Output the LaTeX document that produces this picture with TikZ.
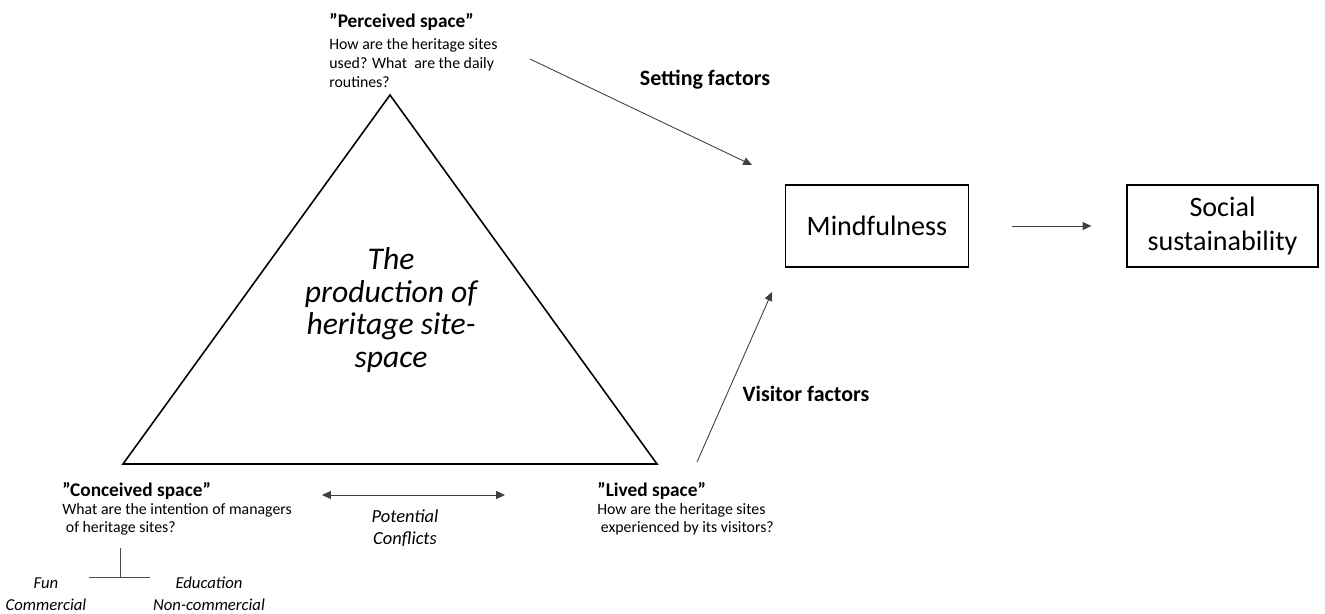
\documentclass[tikz,border=0pt]{standalone}
\usepackage{fontspec}
\setmainfont{Carlito}
\usetikzlibrary{arrows.meta, positioning}

\begin{document}
\begin{tikzpicture}[
    x=0.02cm, y=-0.02cm,
    note/.style={align=left, anchor=north west, inner sep=0pt, font=\fontsize{9}{10.2}\selectfont},
    factor/.style={inner sep=0pt, font=\fontsize{12.5}{15}\selectfont\bfseries},
    choice/.style={align=center, inner sep=0pt, font=\fontsize{9.5}{12.5}\selectfont\itshape},
    box/.style={rectangle, draw, line width=0.7pt, minimum height=1.64cm, align=center, inner sep=2pt, font=\fontsize{16}{19.5}\selectfont},
    arrow/.style={-{Triangle[length=5pt, width=4.5pt]}, line width=0.5pt, draw=black!75},
    tree/.style={line width=0.5pt, draw=black!70}
]
\useasboundingbox (0,0) rectangle (1325,613);

% the three spaces of the triangle
\coordinate (apex) at (390,95);
\coordinate (left) at (123,464);
\coordinate (right) at (657,464);
\draw[line width=0.9pt, line join=miter] (apex) -- (right) -- (left) -- cycle;

\node[align=center, inner sep=0pt, font=\fontsize{18}{18.5}\selectfont\itshape] (production) at (391,310)
    {The\\production of\\heritage site-\\space};

\node[note, font=\fontsize{9}{10.9}\selectfont] (perceived) at (329,13) {{\fontsize{11}{12}\selectfont\bfseries ''Perceived space''}\\[1.5pt]How are the heritage sites\\used? What~ are the daily\\routines?};
\node[note] (conceived) at (62,482) {{\fontsize{11}{12}\selectfont\bfseries ''Conceived space''}\\What are the intention of managers\\\ of heritage sites?};
\node[note] (lived) at (597,482) {{\fontsize{11}{12}\selectfont\bfseries ''Lived space''}\\How are the heritage sites\\\ experienced by its visitors?};

% outcome boxes
\node[box, minimum width=3.66cm] (mind) at (877,226) {Mindfulness};
\node[box, minimum width=3.82cm] (social) at (1222.5,226) {Social\\sustainability};
\draw[arrow, shorten <=0.86cm, shorten >=0.7cm] (mind) -- (social);

% factors
\coordinate (setStart) at (530,59);
\coordinate (setEnd) at (752,165);
\draw[arrow] (setStart) -- (setEnd);
\node[factor] (setting) at (705,80) {Setting factors};

\coordinate (visStart) at (697,462);
\coordinate (visEnd) at (772,292);
\draw[arrow] (visStart) -- (visEnd);
\node[factor] (visitor) at (806,394) {Visitor factors};

% conflicts
\coordinate (confLeft) at (322,495);
\coordinate (confRight) at (505,495);
\draw[arrow, {Triangle[length=5pt, width=4.5pt]}-{Triangle[length=5pt, width=4.5pt]}] (confLeft) -- (confRight);
\node[choice, font=\fontsize{10.5}{12.5}\selectfont\itshape] (conflicts) at (405,528) {Potential\\Conflicts};

% intentions of managers
\coordinate (treeTop) at (120,548);
\coordinate (treeJoin) at (120,577);
\coordinate (treeLeft) at (89,577);
\coordinate (treeRight) at (150,577);
\draw[tree] (treeTop) -- (treeJoin);
\draw[tree] (treeLeft) -- (treeRight);
\node[choice] (fun) at (46,594) {Fun\\Commercial};
\node[choice] (education) at (209,594) {Education\\Non-commercial};

\end{tikzpicture}
\end{document}
